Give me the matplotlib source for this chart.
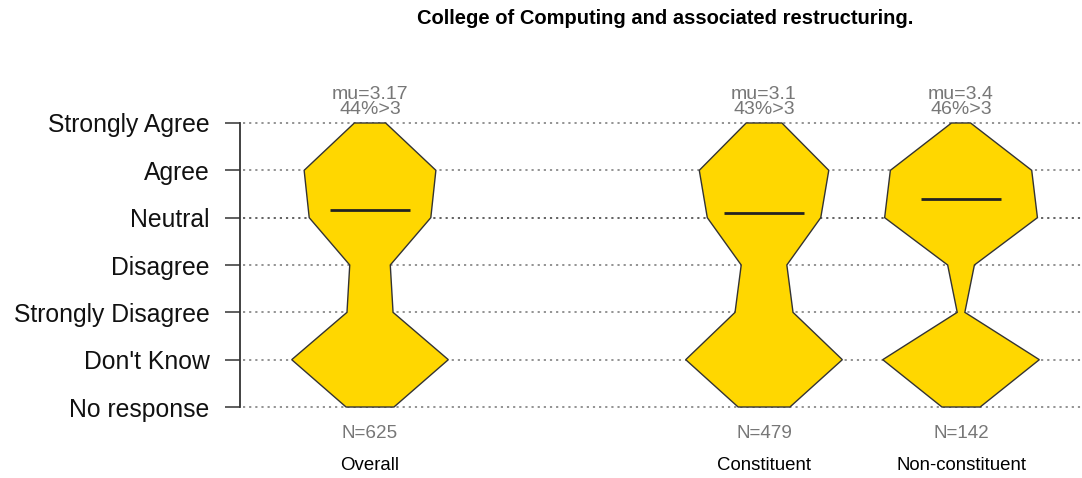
import numpy as np
import matplotlib
matplotlib.use('Agg')
import matplotlib.pyplot as plt
from matplotlib.patches import Polygon

plt.rcParams['font.family'] = ['Liberation Sans', 'DejaVu Sans']

# Response levels, bottom to top
levels = ['No response', "Don't Know", 'Strongly Disagree', 'Disagree',
          'Neutral', 'Agree', 'Strongly Agree']

groups = ['Overall', 'Constituent', 'Non-constituent']
positions = [1, 3, 4]

# counts per level (same order as levels)
overall = [52, 170, 50, 44, 132, 143, 34]
constituent = [42, 127, 47, 37, 92, 105, 29]
non_constituent = [10, 41, 2, 7, 40, 37, 5]
counts = [overall, constituent, non_constituent]

title = 'College of Computing and associated restructuring.'

fig = plt.figure(figsize=(10.82, 4.78), dpi=100)
ax = fig.add_axes([0.2218, 0.1188, 0.7782, 0.6536])
ax.set_xlim(0.34, 4.614)
ax.set_ylim(-0.3, 6.3)

# dotted guide lines
for i in range(len(levels)):
    c = '#555555' if levels[i] == 'Neutral' else '#8a8a8a'
    ax.plot([0.355, 4.614], [i, i], linestyle=(0, (1.2, 2.2)), color=c,
            lw=1.3, zorder=1, clip_on=False)

maxhw = 0.3975
for pos, cnt, name in zip(positions, counts, groups):
    cnt = np.array(cnt, dtype=float)
    hw = cnt / cnt.max() * maxhw
    ys = np.arange(len(levels))
    right = np.column_stack([pos + hw, ys])
    left = np.column_stack([pos - hw[::-1], ys[::-1]])
    poly = Polygon(np.vstack([right, left]), closed=True, facecolor='#FFD700',
                   edgecolor='#333333', lw=1.0, zorder=2)
    ax.add_patch(poly)

    # mean over the Likert answers (Strongly Disagree=1 .. Strongly Agree=5)
    valid = cnt[2:]
    scores = np.arange(1, 6)
    mu = (valid * scores).sum() / valid.sum()
    pct = 100 * valid[3:].sum() / valid.sum()
    ax.plot([pos - 0.203, pos + 0.203], [mu + 1, mu + 1], color='#222222',
            lw=2, zorder=3, solid_capstyle='butt')

    ax.text(pos, 6.44, f'mu={round(mu, 2):g}\n{round(pct):d}%>3',
            ha='center', va='center', color='#777777', fontsize=14,
            linespacing=0.8, clip_on=False)
    ax.text(pos, -0.57, f'N={int(cnt.sum())}', ha='center', va='center',
            color='#777777', fontsize=13.6, clip_on=False)
    ax.text(pos, -1.23, name, ha='center', va='center',
            color='black', fontsize=13.4, clip_on=False)

for s in ['top', 'right', 'bottom']:
    ax.spines[s].set_visible(False)
ax.spines['left'].set_bounds(0, 6)
ax.spines['left'].set_color('#333333')
ax.spines['left'].set_linewidth(1.3)
ax.set_xticks([])
ax.set_yticks(range(len(levels)))
ax.set_yticklabels(levels, fontsize=17.8)
ax.tick_params(axis='y', length=11, width=1.1, color='#333333', pad=11,
               labelcolor='#111111')

fig.text(665 / 1082, 1 - 18 / 478, title, ha='center', va='center',
         fontsize=14.5, fontweight='bold')

fig.savefig('out.png', dpi=100)
